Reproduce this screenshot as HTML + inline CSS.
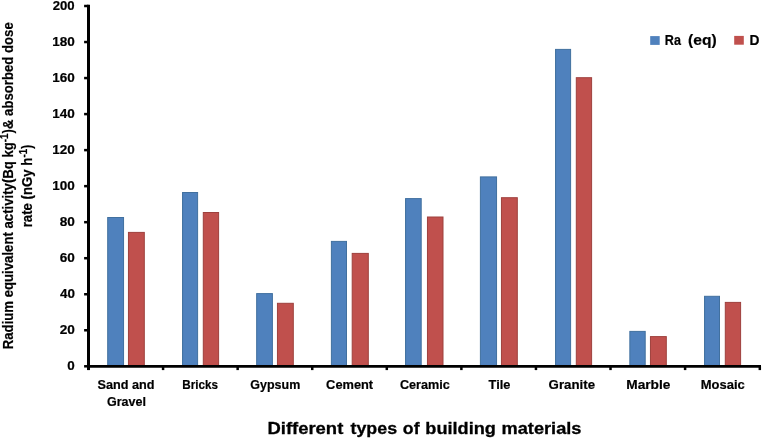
<!DOCTYPE html><html><head><meta charset="utf-8"><title>Chart</title><style>html,body{margin:0;padding:0;background:#fff;}svg{display:block;}</style></head><body>
<svg width="762" height="439" viewBox="0 0 762 439">
<rect width="762" height="439" fill="#fff"/>
<rect x="107.70" y="217.50" width="15.85" height="147.95" fill="#4F81BD" stroke="#41709F" stroke-width="1"/>
<rect x="128.45" y="232.40" width="15.85" height="133.05" fill="#C0504D" stroke="#9E403D" stroke-width="1"/>
<rect x="182.54" y="192.50" width="15.06" height="172.95" fill="#4F81BD" stroke="#41709F" stroke-width="1"/>
<rect x="203.30" y="212.50" width="15.30" height="152.95" fill="#C0504D" stroke="#9E403D" stroke-width="1"/>
<rect x="256.67" y="293.60" width="15.73" height="71.85" fill="#4F81BD" stroke="#41709F" stroke-width="1"/>
<rect x="277.45" y="303.30" width="15.85" height="62.15" fill="#C0504D" stroke="#9E403D" stroke-width="1"/>
<rect x="331.40" y="241.40" width="15.10" height="124.05" fill="#4F81BD" stroke="#41709F" stroke-width="1"/>
<rect x="352.20" y="253.40" width="16.10" height="112.05" fill="#C0504D" stroke="#9E403D" stroke-width="1"/>
<rect x="405.54" y="198.60" width="15.66" height="166.85" fill="#4F81BD" stroke="#41709F" stroke-width="1"/>
<rect x="427.46" y="217.00" width="15.54" height="148.45" fill="#C0504D" stroke="#9E403D" stroke-width="1"/>
<rect x="480.40" y="176.90" width="16.15" height="188.55" fill="#4F81BD" stroke="#41709F" stroke-width="1"/>
<rect x="501.45" y="197.70" width="15.85" height="167.75" fill="#C0504D" stroke="#9E403D" stroke-width="1"/>
<rect x="555.54" y="49.40" width="15.06" height="316.05" fill="#4F81BD" stroke="#41709F" stroke-width="1"/>
<rect x="576.30" y="77.70" width="15.30" height="287.75" fill="#C0504D" stroke="#9E403D" stroke-width="1"/>
<rect x="629.85" y="331.40" width="15.35" height="34.05" fill="#4F81BD" stroke="#41709F" stroke-width="1"/>
<rect x="650.45" y="336.60" width="15.85" height="28.85" fill="#C0504D" stroke="#9E403D" stroke-width="1"/>
<rect x="704.54" y="296.30" width="14.96" height="69.15" fill="#4F81BD" stroke="#41709F" stroke-width="1"/>
<rect x="725.30" y="302.40" width="15.30" height="63.05" fill="#C0504D" stroke="#9E403D" stroke-width="1"/>
<line x1="88.5" y1="4.8" x2="88.5" y2="370.1" stroke="#000" stroke-width="3.0"/>
<line x1="87.0" y1="366.35" x2="761.0" y2="366.35" stroke="#000" stroke-width="2.7"/>
<line x1="84.1" y1="366.30" x2="88.5" y2="366.30" stroke="#000" stroke-width="2.5"/>
<line x1="84.1" y1="330.27" x2="88.5" y2="330.27" stroke="#000" stroke-width="2.5"/>
<line x1="84.1" y1="294.24" x2="88.5" y2="294.24" stroke="#000" stroke-width="2.5"/>
<line x1="84.1" y1="258.21" x2="88.5" y2="258.21" stroke="#000" stroke-width="2.5"/>
<line x1="84.1" y1="222.18" x2="88.5" y2="222.18" stroke="#000" stroke-width="2.5"/>
<line x1="84.1" y1="186.15" x2="88.5" y2="186.15" stroke="#000" stroke-width="2.5"/>
<line x1="84.1" y1="150.12" x2="88.5" y2="150.12" stroke="#000" stroke-width="2.5"/>
<line x1="84.1" y1="114.09" x2="88.5" y2="114.09" stroke="#000" stroke-width="2.5"/>
<line x1="84.1" y1="78.06" x2="88.5" y2="78.06" stroke="#000" stroke-width="2.5"/>
<line x1="84.1" y1="42.03" x2="88.5" y2="42.03" stroke="#000" stroke-width="2.5"/>
<line x1="84.1" y1="6.00" x2="88.5" y2="6.00" stroke="#000" stroke-width="2.5"/>
<line x1="88.50" y1="366.35" x2="88.50" y2="370.1" stroke="#000" stroke-width="2.5"/>
<line x1="163.07" y1="366.35" x2="163.07" y2="370.1" stroke="#000" stroke-width="2.5"/>
<line x1="237.65" y1="366.35" x2="237.65" y2="370.1" stroke="#000" stroke-width="2.5"/>
<line x1="312.23" y1="366.35" x2="312.23" y2="370.1" stroke="#000" stroke-width="2.5"/>
<line x1="386.80" y1="366.35" x2="386.80" y2="370.1" stroke="#000" stroke-width="2.5"/>
<line x1="461.38" y1="366.35" x2="461.38" y2="370.1" stroke="#000" stroke-width="2.5"/>
<line x1="535.95" y1="366.35" x2="535.95" y2="370.1" stroke="#000" stroke-width="2.5"/>
<line x1="610.52" y1="366.35" x2="610.52" y2="370.1" stroke="#000" stroke-width="2.5"/>
<line x1="685.10" y1="366.35" x2="685.10" y2="370.1" stroke="#000" stroke-width="2.5"/>
<line x1="759.80" y1="366.35" x2="759.80" y2="370.1" stroke="#000" stroke-width="2.5"/>
<rect x="650.2" y="36.1" width="9.5" height="8.8" fill="#4F81BD"/>
<rect x="734.2" y="35.9" width="9.6" height="8.8" fill="#C0504D"/>
<text x="67.31" y="370.00" font-size="13" font-family="Liberation Sans, Arial, sans-serif" font-weight="bold" fill="#000" stroke="#000" stroke-width="0.2" textLength="7.46" lengthAdjust="spacingAndGlyphs">0</text>
<text x="59.71" y="333.97" font-size="13" font-family="Liberation Sans, Arial, sans-serif" font-weight="bold" fill="#000" stroke="#000" stroke-width="0.2" textLength="15.14" lengthAdjust="spacingAndGlyphs">20</text>
<text x="60.03" y="297.94" font-size="13" font-family="Liberation Sans, Arial, sans-serif" font-weight="bold" fill="#000" stroke="#000" stroke-width="0.2" textLength="14.92" lengthAdjust="spacingAndGlyphs">40</text>
<text x="59.73" y="261.91" font-size="13" font-family="Liberation Sans, Arial, sans-serif" font-weight="bold" fill="#000" stroke="#000" stroke-width="0.2" textLength="15.09" lengthAdjust="spacingAndGlyphs">60</text>
<text x="59.69" y="225.88" font-size="13" font-family="Liberation Sans, Arial, sans-serif" font-weight="bold" fill="#000" stroke="#000" stroke-width="0.2" textLength="15.14" lengthAdjust="spacingAndGlyphs">80</text>
<text x="52.33" y="189.85" font-size="13" font-family="Liberation Sans, Arial, sans-serif" font-weight="bold" fill="#000" stroke="#000" stroke-width="0.2" textLength="22.56" lengthAdjust="spacingAndGlyphs">100</text>
<text x="52.33" y="153.82" font-size="13" font-family="Liberation Sans, Arial, sans-serif" font-weight="bold" fill="#000" stroke="#000" stroke-width="0.2" textLength="22.56" lengthAdjust="spacingAndGlyphs">120</text>
<text x="52.33" y="117.79" font-size="13" font-family="Liberation Sans, Arial, sans-serif" font-weight="bold" fill="#000" stroke="#000" stroke-width="0.2" textLength="22.56" lengthAdjust="spacingAndGlyphs">140</text>
<text x="52.33" y="81.76" font-size="13" font-family="Liberation Sans, Arial, sans-serif" font-weight="bold" fill="#000" stroke="#000" stroke-width="0.2" textLength="22.56" lengthAdjust="spacingAndGlyphs">160</text>
<text x="52.33" y="45.73" font-size="13" font-family="Liberation Sans, Arial, sans-serif" font-weight="bold" fill="#000" stroke="#000" stroke-width="0.2" textLength="22.56" lengthAdjust="spacingAndGlyphs">180</text>
<text x="52.75" y="9.70" font-size="13" font-family="Liberation Sans, Arial, sans-serif" font-weight="bold" fill="#000" stroke="#000" stroke-width="0.2" textLength="21.95" lengthAdjust="spacingAndGlyphs">200</text>
<text x="97.53" y="388.80" font-size="12.8" font-family="Liberation Sans, Arial, sans-serif" font-weight="bold" fill="#000" stroke="#000" stroke-width="0.2" textLength="57.05" lengthAdjust="spacingAndGlyphs">Sand and</text>
<text x="106.90" y="405.60" font-size="12.8" font-family="Liberation Sans, Arial, sans-serif" font-weight="bold" fill="#000" stroke="#000" stroke-width="0.2" textLength="39.00" lengthAdjust="spacingAndGlyphs">Gravel</text>
<text x="182.32" y="388.80" font-size="12.8" font-family="Liberation Sans, Arial, sans-serif" font-weight="bold" fill="#000" stroke="#000" stroke-width="0.2" textLength="35.70" lengthAdjust="spacingAndGlyphs">Bricks</text>
<text x="250.34" y="388.80" font-size="12.8" font-family="Liberation Sans, Arial, sans-serif" font-weight="bold" fill="#000" stroke="#000" stroke-width="0.2" textLength="49.89" lengthAdjust="spacingAndGlyphs">Gypsum</text>
<text x="326.14" y="388.80" font-size="12.8" font-family="Liberation Sans, Arial, sans-serif" font-weight="bold" fill="#000" stroke="#000" stroke-width="0.2" textLength="47.01" lengthAdjust="spacingAndGlyphs">Cement</text>
<text x="399.91" y="388.80" font-size="12.8" font-family="Liberation Sans, Arial, sans-serif" font-weight="bold" fill="#000" stroke="#000" stroke-width="0.2" textLength="49.89" lengthAdjust="spacingAndGlyphs">Ceramic</text>
<text x="488.58" y="388.80" font-size="12.8" font-family="Liberation Sans, Arial, sans-serif" font-weight="bold" fill="#000" stroke="#000" stroke-width="0.2" textLength="21.85" lengthAdjust="spacingAndGlyphs">Tile</text>
<text x="548.64" y="388.80" font-size="12.8" font-family="Liberation Sans, Arial, sans-serif" font-weight="bold" fill="#000" stroke="#000" stroke-width="0.2" textLength="46.43" lengthAdjust="spacingAndGlyphs">Granite</text>
<text x="626.21" y="388.80" font-size="12.8" font-family="Liberation Sans, Arial, sans-serif" font-weight="bold" fill="#000" stroke="#000" stroke-width="0.2" textLength="44.21" lengthAdjust="spacingAndGlyphs">Marble</text>
<text x="700.78" y="388.80" font-size="12.8" font-family="Liberation Sans, Arial, sans-serif" font-weight="bold" fill="#000" stroke="#000" stroke-width="0.2" textLength="44.04" lengthAdjust="spacingAndGlyphs">Mosaic</text>
<text x="749.42" y="45.20" font-size="14.8" font-family="Liberation Sans, Arial, sans-serif" font-weight="bold" fill="#000" stroke="#000" stroke-width="0.2" textLength="9.94" lengthAdjust="spacingAndGlyphs">D</text>
<text transform="translate(13.00,349.23) rotate(-90)" x="0" y="0" font-size="14.2" font-family="Liberation Sans, Arial, sans-serif" font-weight="bold" fill="#000" stroke="#000" stroke-width="0.2" textLength="326.96" lengthAdjust="spacingAndGlyphs">Radium equivalent activity(Bq kg<tspan font-size="10.5" dy="-4.6">-1</tspan><tspan dy="4.6">)&amp; absorbed dose</tspan></text>
<text transform="translate(32.00,227.27) rotate(-90)" x="0" y="0" font-size="14.2" font-family="Liberation Sans, Arial, sans-serif" font-weight="bold" fill="#000" stroke="#000" stroke-width="0.2" textLength="82.77" lengthAdjust="spacingAndGlyphs">rate (nGy h<tspan font-size="10.5" dy="-4.6">-1</tspan><tspan dy="4.6">)</tspan></text>
<text x="267.45" y="434.00" font-size="17.3" font-family="Liberation Sans, Arial, sans-serif" font-weight="bold" fill="#000" stroke="#000" stroke-width="0.3" textLength="75.86" lengthAdjust="spacingAndGlyphs">Different</text>
<text x="350.50" y="434.00" font-size="17.3" font-family="Liberation Sans, Arial, sans-serif" font-weight="bold" fill="#000" stroke="#000" stroke-width="0.3" textLength="46.55" lengthAdjust="spacingAndGlyphs">types</text>
<text x="402.87" y="434.00" font-size="17.3" font-family="Liberation Sans, Arial, sans-serif" font-weight="bold" fill="#000" stroke="#000" stroke-width="0.3" textLength="16.66" lengthAdjust="spacingAndGlyphs">of</text>
<text x="425.32" y="434.00" font-size="17.3" font-family="Liberation Sans, Arial, sans-serif" font-weight="bold" fill="#000" stroke="#000" stroke-width="0.3" textLength="70.58" lengthAdjust="spacingAndGlyphs">building</text>
<text x="501.57" y="434.00" font-size="17.3" font-family="Liberation Sans, Arial, sans-serif" font-weight="bold" fill="#000" stroke="#000" stroke-width="0.3" textLength="79.88" lengthAdjust="spacingAndGlyphs">materials</text>
<text x="664.82" y="45.40" font-size="14.8" font-family="Liberation Sans, Arial, sans-serif" font-weight="bold" fill="#000" stroke="#000" stroke-width="0.2" textLength="16.10" lengthAdjust="spacingAndGlyphs">Ra</text>
<text x="688.02" y="45.40" font-size="14.8" font-family="Liberation Sans, Arial, sans-serif" font-weight="bold" fill="#000" stroke="#000" stroke-width="0.2" textLength="28.58" lengthAdjust="spacingAndGlyphs">(eq)</text>
</svg></body></html>
